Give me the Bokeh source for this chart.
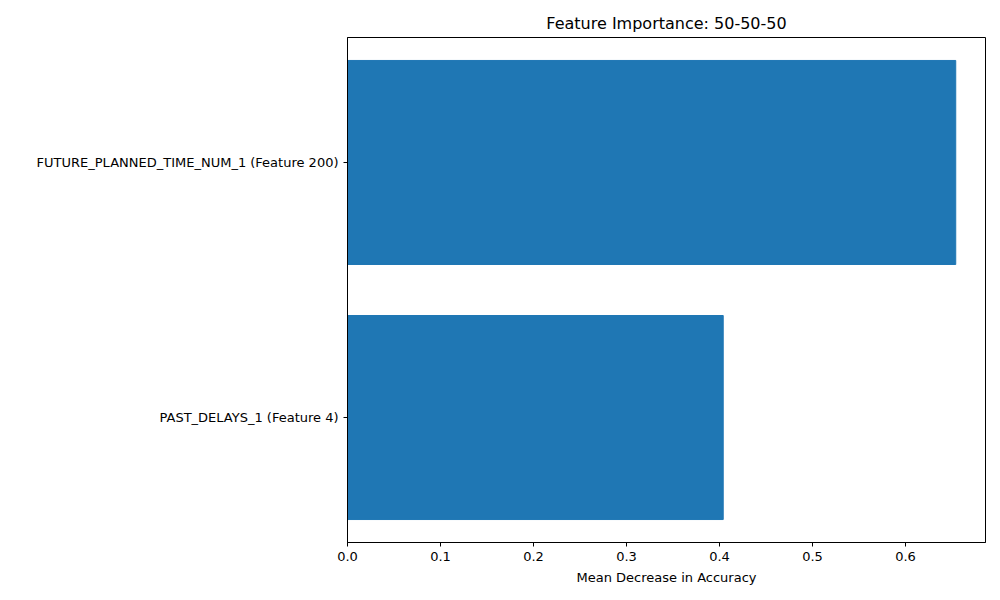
from bokeh.plotting import figure
from bokeh.models import Range1d, FixedTicker
from bokeh.embed import file_html
from bokeh.resources import INLINE

features = ["PAST_DELAYS_1 (Feature 4)", "FUTURE_PLANNED_TIME_NUM_1 (Feature 200)"]
importance = [0.404, 0.654]
ypos = [0, 1]

p = figure(width=990, height=590, output_backend="svg", toolbar_location=None,
           x_range=Range1d(0, 0.686), y_range=Range1d(-0.49, 1.49),
           min_border_left=347, min_border_right=5, min_border_top=37, min_border_bottom=48,
           title="Feature Importance: 50-50-50")
p.hbar(y=ypos, right=importance, left=0, height=0.8, color="#1f77b4")

p.title.align = "center"
p.title.text_font = "DejaVu Sans"
p.title.text_font_size = "16px"
p.title.text_font_style = "normal"
p.title.text_color = "black"
p.xaxis.axis_label = "Mean Decrease in Accuracy"
p.xaxis.axis_label_text_font = "DejaVu Sans"
p.xaxis.axis_label_text_font_size = "13px"
p.xaxis.axis_label_text_font_style = "normal"
p.xaxis.axis_label_text_color = "black"
p.xaxis.axis_label_standoff = 6
p.xaxis.ticker = FixedTicker(ticks=[0, 0.1, 0.2, 0.3, 0.4, 0.5, 0.6])
p.xaxis.major_label_overrides = {0: "0.0"}
p.yaxis.ticker = FixedTicker(ticks=ypos)
p.yaxis.major_label_overrides = {i: f for i, f in zip(ypos, features)}
for ax in (p.xaxis, p.yaxis):
    ax.major_label_text_font = "DejaVu Sans"
    ax.major_label_text_font_size = "13px"
    ax.major_label_text_color = "black"
    ax.minor_tick_line_color = None
    ax.major_tick_in = 0
    ax.major_tick_out = 4
    ax.axis_line_color = "black"
p.grid.visible = False
p.outline_line_color = "black"

open("out.html", "w").write(file_html(p, INLINE))
